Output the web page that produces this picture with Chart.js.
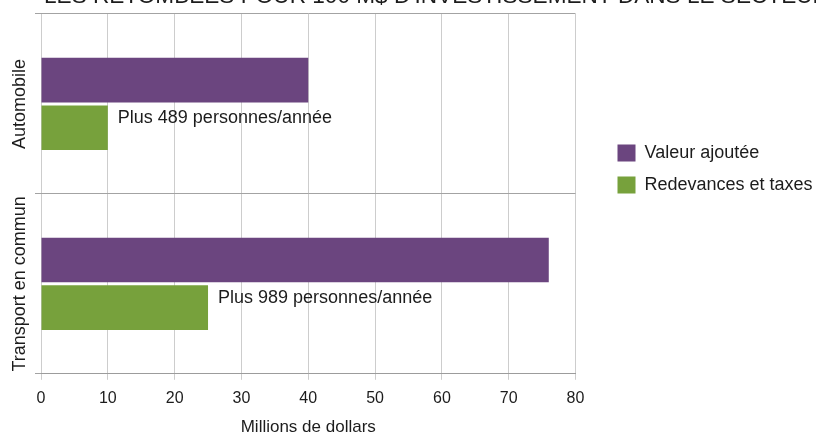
<!DOCTYPE html>
<html>
<head>
<meta charset="utf-8">
<script src="https://cdn.jsdelivr.net/npm/chart.js@4.4.1/dist/chart.umd.min.js"></script>
<style>
  html, body { margin: 0; padding: 0; background: #fff; }
  #wrap { width: 816px; height: 434px; position: relative; }
</style>
</head>
<body>
<div id="wrap"><canvas id="chart"></canvas></div>
<script>
const chartTitle = "LES RETOMBÉES POUR 100 M$ D'INVESTISSEMENT DANS LE SECTEUR";
const sectors = ['Automobile', 'Transport en commun'];
const valeurAjoutee = [40, 76];
const redevances = [10, 25];
const emplois = ['Plus 489 personnes/année', 'Plus 989 personnes/année'];
const xMin = 0;
const xMax = 80;
const xStep = 10;

const FONT = '"Liberation Sans", Arial, sans-serif';
const INK = '#1c1c1c';
const PURPLE = '#6b457f';
const GREEN = '#77a13c';

// heading that runs off the top edge
const headingPlugin = {
    id: 'heading',
    afterDraw(chart) {
        const ctx = chart.ctx;
        ctx.save();
        ctx.font = '22.6px ' + FONT;
        ctx.fillStyle = INK;
        ctx.textBaseline = 'alphabetic';
        ctx.fillText(chartTitle, 44, 3);
        ctx.restore();
    }
};

// rotated sector names on the left
const sectorLabels = {
    id: 'sectorLabels',
    afterDraw(chart) {
        const ctx = chart.ctx;
        const yScale = chart.scales.y;
        ctx.save();
        ctx.font = '18px ' + FONT;
        ctx.fillStyle = INK;
        ctx.textAlign = 'center';
        ctx.textBaseline = 'middle';
        sectors.forEach((name, i) => {
            ctx.save();
            ctx.translate(yScale.left + 20, yScale.getPixelForValue(i));
            ctx.rotate(-Math.PI / 2);
            ctx.fillText(name, 0, 0);
            ctx.restore();
        });
        ctx.restore();
    }
};

// job counts next to the green bars
const jobLabels = {
    id: 'jobLabels',
    afterDatasetsDraw(chart) {
        const ctx = chart.ctx;
        const meta = chart.getDatasetMeta(1);
        ctx.save();
        ctx.font = '18px ' + FONT;
        ctx.fillStyle = INK;
        ctx.textBaseline = 'alphabetic';
        meta.data.forEach((bar, i) => {
            const top = bar.y - bar.height / 2;
            ctx.fillText(emplois[i], bar.x + 10, top + 18);
        });
        ctx.restore();
    }
};

// put the legend a little right of the plot and up near the first category,
// and give it enough room so the longer label is not cut
const legendPlace = {
    id: 'legendPlace',
    afterLayout(chart) {
        const lg = chart.legend;
        const h = lg.height;
        lg.left = chart.chartArea.right + 28;
        lg.width = 240;
        lg.maxWidth = 240;
        lg.right = lg.left + lg.width;
        lg.top = 130;
        lg.bottom = lg.top + h;
    }
};

new Chart(document.getElementById('chart'), {
    type: 'bar',
    data: {
        labels: sectors,
        datasets: [{
            label: 'Valeur ajoutée',
            data: valeurAjoutee,
            backgroundColor: PURPLE,
            categoryPercentage: 0.53,
            barPercentage: 0.937
        }, {
            label: 'Redevances et taxes',
            data: redevances,
            backgroundColor: GREEN,
            categoryPercentage: 0.53,
            barPercentage: 0.937
        }]
    },
    options: {
        indexAxis: 'y',
        responsive: true,
        maintainAspectRatio: false,
        animation: false,
        layout: {
            padding: { top: 14, right: 46.5, left: 0, bottom: -2 }
        },
        plugins: {
            legend: {
                position: 'right',
                align: 'start',
                maxWidth: 194,
                labels: {
                    boxWidth: 18,
                    boxHeight: 17,
                    padding: 14,
                    color: INK,
                    font: { family: FONT, size: 18 }
                }
            },
            tooltip: { enabled: false }
        },
        scales: {
            x: {
                min: xMin,
                max: xMax,
                ticks: {
                    stepSize: xStep,
                    color: INK,
                    padding: 9,
                    font: { family: FONT, size: 16 }
                },
                grid: { color: '#cdcdcd', tickLength: 6 },
                border: { color: '#9c9c9c' },
                title: {
                    display: true,
                    text: 'Millions de dollars',
                    color: INK,
                    font: { family: FONT, size: 17, lineHeight: 1 },
                    padding: { top: 2, bottom: 0 }
                }
            },
            y: {
                ticks: { display: false },
                grid: { color: '#a3a3a3', tickLength: 6 },
                border: { display: false },
                afterFit(scale) {
                    scale.width = 41;
                }
            }
        }
    },
    plugins: [headingPlugin, sectorLabels, jobLabels, legendPlace]
});
</script>
</body>
</html>
